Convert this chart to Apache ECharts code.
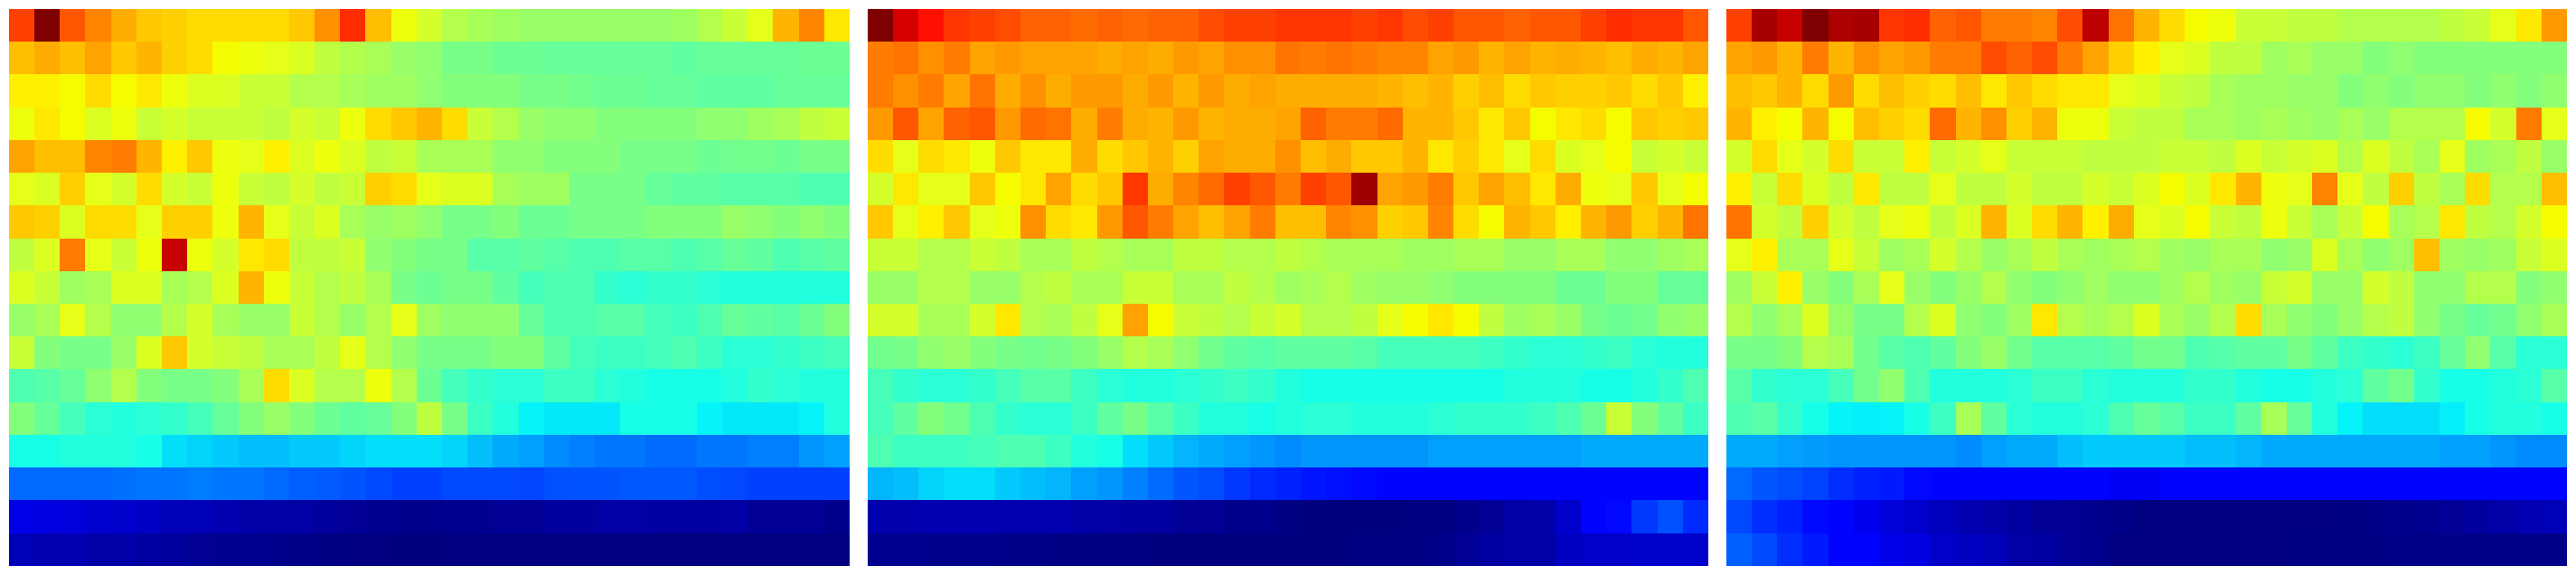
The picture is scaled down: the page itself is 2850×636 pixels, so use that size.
<!DOCTYPE html>
<html>
<head>
<meta charset="utf-8">
<style>html,body{margin:0;padding:0;background:#fff}#c{width:2850px;height:636px}</style>
<script src="https://cdn.jsdelivr.net/npm/echarts@6/dist/echarts.min.js"></script>
</head>
<body>
<div id="c"></div>
<script>
const panelA = [
[81,100,79,74,70,67,66,65,65,65,65,67,73,83,68,61,58,55,54,53,52,52,52,52,52,52,53,55,57,60,69,74,64],
[68,70,68,71,67,69,66,65,62,61,60,59,56,55,54,52,51,49,49,47,47,46,46,46,46,46,45,46,46,46,46,47,47],
[63,63,62,65,62,64,61,59,59,57,57,55,55,54,53,53,51,50,50,50,49,49,48,47,47,46,46,45,45,45,46,46,46],
[61,64,62,59,61,57,58,57,57,57,56,58,57,61,65,67,69,65,57,55,52,51,51,50,50,50,50,51,51,53,54,56,57],
[71,68,68,74,75,69,63,67,61,60,63,59,61,59,56,57,54,54,54,51,51,50,50,50,49,49,49,47,48,48,47,49,49],
[60,59,66,60,58,65,58,57,61,57,56,58,56,57,66,65,60,59,59,54,53,53,49,49,49,46,45,45,44,44,44,43,43],
[67,66,59,65,65,60,66,66,61,69,60,57,59,54,52,53,51,49,49,50,47,47,49,49,49,50,50,50,52,51,50,51,50],
[56,59,75,60,57,61,93,61,58,64,65,56,56,57,51,50,49,49,44,44,45,44,43,43,44,44,43,44,46,45,43,44,45],
[59,57,53,54,59,59,54,55,59,69,61,57,55,56,54,49,47,49,49,45,42,43,43,40,39,40,40,39,38,38,38,38,38],
[52,54,60,55,51,51,55,58,54,52,52,57,55,52,55,60,53,51,51,51,46,43,43,44,44,42,41,43,46,45,44,47,50],
[57,50,49,49,52,59,67,58,57,56,54,54,56,60,55,51,49,49,49,50,50,45,42,41,41,42,43,41,39,39,40,41,42],
[43,44,46,51,55,50,49,49,50,54,65,59,55,55,61,55,47,42,40,39,39,41,41,39,38,37,37,37,38,40,39,38,38],
[50,46,42,39,38,39,40,42,46,50,52,50,47,45,46,50,56,49,41,38,36,35,35,35,37,37,37,36,35,35,35,36,38],
[37,37,38,38,38,37,34,33,32,31,31,32,32,33,34,34,34,33,31,29,28,26,25,24,24,23,23,24,24,25,25,27,28],
[22.7,22.7,22.7,22.7,23.5,23.9,23.9,24.7,23.9,23.9,22.7,21.9,21.5,20.7,19.6,18.8,18.8,19.6,19.6,19.6,19.2,20.3,20.7,20.7,21.1,21.1,21.1,20,19.6,18.8,18.8,18.8,18.8],
[10.3,9.5,9,8,7.5,6.8,5.6,5.6,4.8,4,4,3.6,2.8,2.4,1.7,1.3,1.3,1.7,1.7,2.4,2.4,2.8,2.8,3.6,3.6,3.2,3.2,3.2,3.6,2.4,2.4,2.4,1.3],
[5.6,4.8,4.8,4,4,3.2,2.8,2.1,1.7,1.7,1.3,0.9,0.5,0.2,0.2,0,0,0.2,0.2,0.2,0.2,0.2,0.2,0.2,0.2,0.2,0.2,0.2,0.2,0.2,0.2,0.2,0.2]
];
const panelB = [
[100,91.5,86,82,81,80,78,78,77,78,77,78,78,80,81,81,82,82,82,81,82,80,81,79,79,78,79,79,81,83,82,82,79],
[75,76,73,75,71,72,71,71,71,70,71,70,72,71,73,73,76,75,76,75,74,74,71,72,69,71,69,70,69,68,70,69,71],
[75,73,75,71,76,70,73,70,72,72,70,72,69,72,70,71,70,70,70,70,69,68,69,66,68,65,67,66,66,67,65,67,63],
[72,79,71,78,79,72,77,76,70,75,70,69,72,69,70,70,71,78,75,75,77,69,69,67,64,67,62,64,65,62,67,66,67],
[65,60,65,64,61,67,64,64,70,65,67,69,66,71,70,70,73,68,70,67,67,69,64,66,64,60,65,59,60,62,57,58,57],
[58,64,60,60,67,62,64,71,65,67,82,70,74,77,81,79,75,81,79,97,71,72,75,67,71,68,64,70,61,60,67,60,62],
[67,60,63,67,60,61,73,65,64,72,79,75,71,68,71,75,68,68,74,73,66,67,74,65,62,69,67,63,69,72,66,69,76],
[57,57,55,55,57,56,54,54,56,55,54,54,56,56,55,55,56,55,54,54,54,53,53,54,54,52,52,54,54,51,51,53,54],
[52,52,55,55,52,52,55,56,54,54,57,57,54,54,56,55,53,54,55,53,52,52,51,50,50,50,50,47,47,50,50,46,46],
[58,58,54,54,58,64,55,54,56,60,71,62,57,56,55,57,58,55,55,56,60,62,64,62,56,53,54,52,49,47,48,51,52],
[48,49,51,52,50,49,48,49,50,52,55,54,51,48,45,44,45,45,45,44,42,42,42,42,41,40,39,39,40,41,39,38,38],
[42,40,39,39,40,42,44,44,41,39,38,38,39,40,41,40,38,37,37,37,37,37,37,37,37,38,38,38,37,37,38,40,43],
[42,45,50,48,43,40,39,39,41,45,49,44,41,38,38,37,38,39,39,38,38,38,39,40,40,40,41,43,47,57,50,45,41],
[43,41,41,41,42,43,43,41,38,37,34,32,30,29,28,27,26,27,27,27,27,27,28,28,28,28,28,28,29,29,29,29,29],
[30,31,33,34,34,32,31,30,28,27,25,23,21,20,18,16.5,15.7,14.5,14,13.3,12.5,12.5,12.5,12.5,12.5,12.5,12.5,12.5,12.5,12.5,12.5,12.5,12.5],
[4.4,4.4,4.8,4.8,4.8,4.8,4.8,4.8,4,3.6,3.2,3.2,2.4,2.1,1.3,1.3,0.3,0,0,0,0,0.3,0.3,1.3,2.4,3.6,4,7.5,12.5,13.3,18,20.3,16.5],
[1.7,1.7,1.3,1.3,1.3,0.9,0.9,0.5,0.5,0.3,0.3,0,0,0,0,0,0,0,0,0.3,0.5,0.5,0.9,2.4,3.2,4,4,6.4,7.1,7.1,7.5,7.5,7.5]
];
const panelC = [
[81,96,93,100,95.5,96,82,83,78,79,75,75,74,80,94,76,69,65,62,61,57,57,56,56,55,55,55,55,56,57,60,64,72],
[71,72,69,75,69,73,71,72,75,75,80,78,80,75,71,66,63,60,59,56,56,53,54,52,52,50,51,50,50,50,50,50,50],
[68,67,69,65,72,65,68,66,65,68,64,67,65,64,64,60,59,57,56,54,53,53,52,52,50,51,50,51,51,50,51,50,51],
[69,63,62,69,62,68,66,65,77,69,73,66,69,61,61,57,56,56,54,54,53,54,53,52,54,52,55,55,55,62,58,75,60],
[58,65,60,58,65,57,57,63,57,58,60,57,57,57,56,56,56,57,57,56,59,57,58,59,55,59,56,54,60,53,54,56,52],
[63,57,65,59,56,64,56,56,60,56,56,58,56,56,58,57,59,62,59,64,69,61,60,74,60,56,66,56,54,65,55,55,68],
[76,58,56,66,58,56,60,61,56,59,69,59,65,69,63,70,60,59,62,57,56,61,57,54,57,62,54,55,64,56,55,58,62],
[60,63,54,54,60,57,53,54,58,55,52,54,56,54,53,54,55,53,52,54,54,51,52,59,54,51,53,68,53,52,53,57,59],
[53,57,63,52,50,54,60,52,50,52,55,51,50,51,53,51,51,53,55,53,52,57,58,52,52,58,56,51,51,55,55,50,51],
[55,51,54,59,52,49,49,55,59,51,50,53,64,55,54,55,59,54,52,55,65,54,51,50,52,55,56,51,49,46,48,51,54],
[49,49,50,55,54,48,44,43,45,50,52,48,44,44,44,45,48,48,43,44,45,45,49,45,41,40,39,41,46,51,44,39,39],
[44,40,39,39,42,48,51,43,38,38,38,39,41,41,39,38,38,38,40,40,38,37,37,38,39,45,48,40,37,37,38,39,44],
[43,44,40,37,36,35.5,36,37,41,54,45,39,38,38,39,43,46,44,41,41,45,54,46,38,36,34,34,34,35.5,37,38,38,37],
[29,29,28,27.5,27,27,27,27,27,26,28,29,29,31,32,32,32,32,31,31,30,29,29,29,29,29,29,29,28,28,27,26,26],
[22.7,21,20,19,17,15.7,15,13.3,12.5,12.5,12.5,12.5,12.5,12.5,12.5,11.5,11.5,12.5,12.5,12.5,12.5,12.5,12.5,12.5,12.5,12.5,12.5,12.5,12.5,12.5,12.5,12.5,12.5],
[19.6,17,15.7,13.3,12.5,11,8.8,7.5,6,4.8,4,3.2,2.4,2.1,1.3,0.9,0.2,0.1,0.1,0.1,0.1,0.1,0.1,0.1,0.3,0.9,1.3,1.7,2.4,3.2,4,5,5.6],
[21.9,19.6,17,15,12.5,12.5,10.3,9.5,7.1,6.4,5.6,3.6,3.2,2.1,1.3,0.2,0.2,0.2,0.2,0.2,0.2,0.2,0.5,0.5,0.5,0.5,0.9,0.9,0.9,0.9,0.9,0.9,0.9]
];
const panels = [panelA, panelB, panelC];
// Colour ramp of the chart, one stop per value unit between the anchors below.
const rampAnchors = [
 [0,0,0,127],[12.5,0,0,255],[25,0,128,255],[36,4,244,250],[37,24,255,232],[45,96,255,160],[49,120,255,136],
 [50,132,255,124],[51,144,255,112],[54,168,255,88],[55,180,255,76],[56,192,255,63],[57,200,255,55],[58,212,255,43],
 [59,220,255,34],[60,230,255,24],[61,238,255,14],[62,246,252,0],[63,255,240,0],[64,255,232,0],[65,255,220,0],[66,255,208,0],
 [67,255,200,0],[69,255,180,0],[70,255,172,0],[73,255,144,0],[74,255,132,0],[76,255,116,0],[78,255,98,0],[80,255,76,0],
 [81,255,64,0],[83,255,44,0],[86,255,16,0],[87.5,255,0,0],[100,127,0,0]
];
const ramp = [];
for (let v = 0; v <= 100; v++) {
  let i = 0;
  while (i < rampAnchors.length - 2 && rampAnchors[i + 1][0] < v) i++;
  const a = rampAnchors[i], b = rampAnchors[i + 1], t = (v - a[0]) / (b[0] - a[0]);
  ramp.push('rgb(' + [1, 2, 3].map(k => Math.round(a[k] + (b[k] - a[k]) * t)).join(',') + ')');
}
const grid = [], xAxis = [], yAxis = [], series = [];
const colNames = panelA[0].map((_, i) => String(i));
const rowNames = panelA.map((_, i) => String(i));
const snap = p => Math.round(p - 0.1);
function renderCell(params, api) {
  const c = api.coord([api.value(0), api.value(1)]);
  const s = api.size([1, 1]);
  const x0 = snap(c[0] - s[0] / 2), x1 = snap(c[0] + s[0] / 2);
  const y0 = snap(c[1] - s[1] / 2), y1 = snap(c[1] + s[1] / 2);
  return {type: 'rect', shape: {x: x0, y: y0, width: x1 - x0, height: y1 - y0}, style: {fill: api.visual('color')}};
}
panels.forEach((rows, p) => {
  grid.push({left: 10 + 950 * p, top: 10, width: 930, height: 616, show: false});
  xAxis.push({type: 'category', gridIndex: p, data: colNames, show: false});
  yAxis.push({type: 'category', gridIndex: p, data: rowNames, show: false, inverse: true});
  const data = [];
  rows.forEach((r, y) => r.forEach((v, x) => data.push([x, y, v])));
  series.push({type: 'custom', xAxisIndex: p, yAxisIndex: p, data, renderItem: renderCell, silent: true, progressive: 0,
    encode: {x: 0, y: 1}});
});
const chart = echarts.init(document.getElementById('c'), null, {renderer: 'canvas'});
chart.setOption({
  animation: false,
  backgroundColor: '#ffffff',
  grid, xAxis, yAxis, series,
  visualMap: {show: false, min: 0, max: 100, dimension: 2, seriesIndex: [0, 1, 2], inRange: {color: ramp}}
});
</script>
</body>
</html>
